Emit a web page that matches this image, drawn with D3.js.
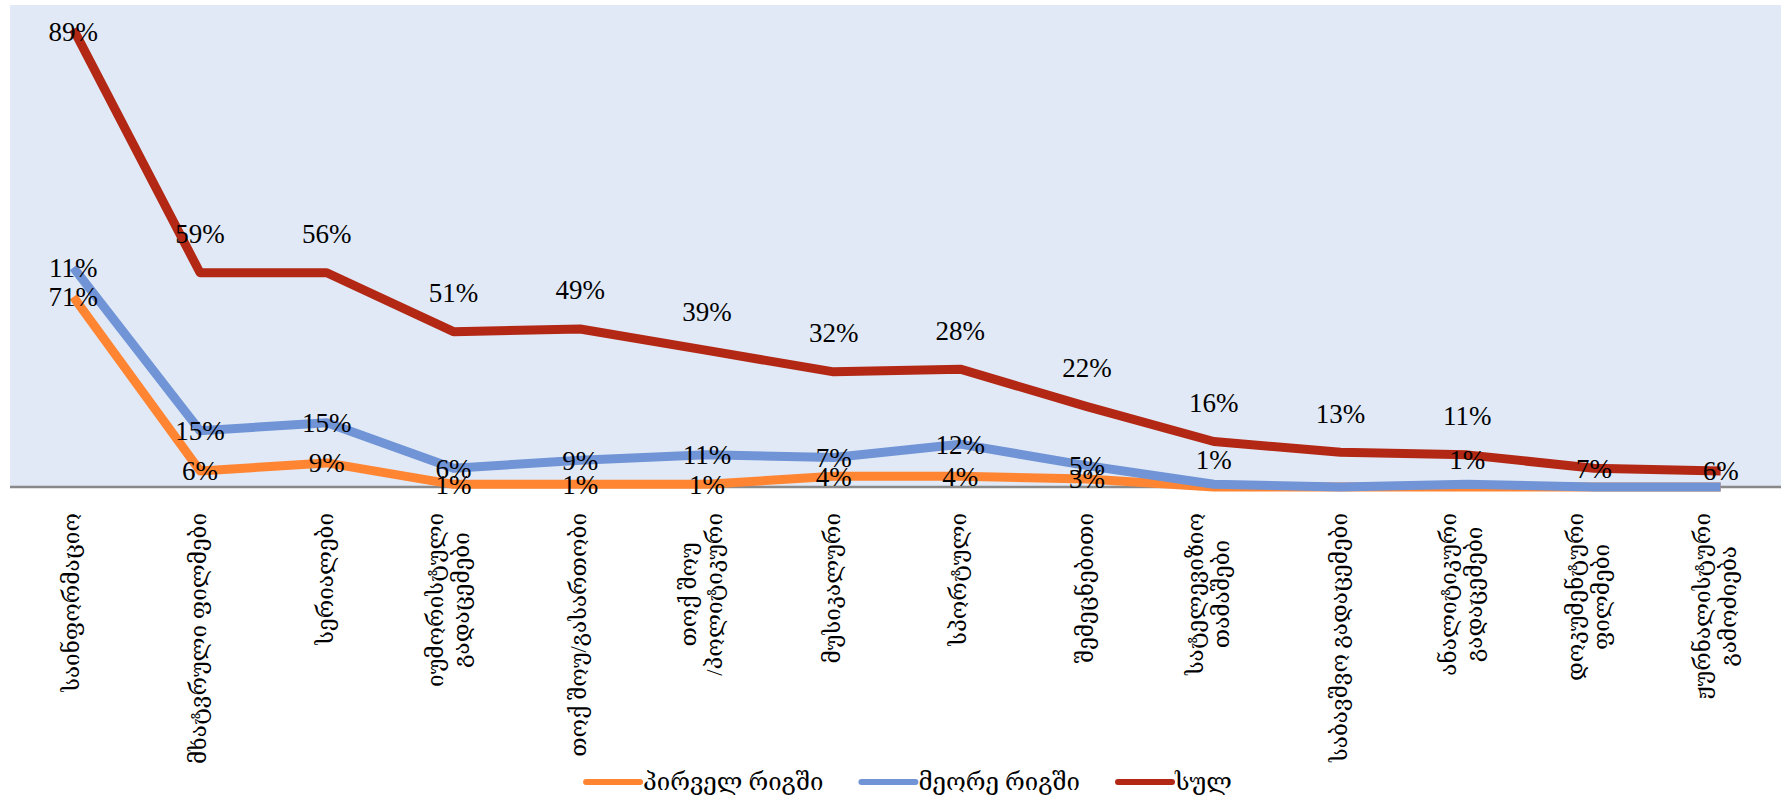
<!DOCTYPE html>
<html>
<head>
<meta charset="utf-8">
<script src="https://cdn.jsdelivr.net/npm/d3@7"></script>
<style>
  body { margin: 0; background: #fff; }
  svg { display: block; font-family: "Liberation Serif", "DejaVu Serif", "DejaVu Sans", serif; }
</style>
</head>
<body>
<div id="chart"></div>
<script>
// categories (each entry = lines of the wrapped label)
const categories = [
    ["საინფორმაციო"],
    ["მხატვრული ფილმები"],
    ["სერიალები"],
    ["იუმორისტული", "გადაცემები"],
    ["თოქ შოუ/გასართობი"],
    ["თოქ შოუ", "/პოლიტიკური"],
    ["მუსიკალური"],
    ["სპორტული"],
    ["შემეცნებითი"],
    ["სატელევიზიო", "თამაშები"],
    ["საბავშვო გადაცემები"],
    ["ანალიტიკური", "გადაცემები"],
    ["დოკუმენტური", "ფილმები"],
    ["ჟურნალისტური", "გამოძიება"]
];

const seriesNames = ["პირველ რიგში", "მეორე რიგში", "სულ"];
const firstRow  = [71, 6, 9, 1, 1, 1, 4, 4, 3, 0, 0, 0, 0, 0];
const secondRow = [11, 15, 15, 6, 9, 11, 7, 12, 5, 1, 0, 1, 0, 0];
const total     = [89, 59, 56, 51, 49, 39, 32, 28, 22, 16, 13, 11, 7, 6];

// where the value labels sit: c = on the point, a = above it
const labelPos = [
    "cccccccccccccc",
    "cccccccccacacc",
    "caaaaaaaaaaacc"
];

const colors = ["#FF8533", "#7094D6", "#B32814"];

const W = 1781, H = 801;
const plot = {left: 10, right: 1784, top: 5, bottom: 487};

const svg = d3.select("#chart").append("svg")
    .attr("width", W).attr("height", H);

svg.append("rect")
    .attr("x", plot.left).attr("y", plot.top)
    .attr("width", plot.right - plot.left).attr("height", plot.bottom - plot.top)
    .attr("fill", "#E1E9F6");

const keys = ["first", "second", "total"];
const table = categories.map((c, i) => ({i: i, first: firstRow[i], second: secondRow[i], total: total[i]}));
const stacked = d3.stack().keys(keys)(table);

const x = d3.scaleBand()
    .domain(d3.range(categories.length))
    .range([plot.left, plot.right]);

const y = d3.scaleLinear()
    .domain([0, 180])
    .range([plot.bottom, plot.top]);

const cx = i => x(i) + x.bandwidth() / 2;

// axis line
svg.append("line")
    .attr("x1", plot.left).attr("x2", W)
    .attr("y1", y(0)).attr("y2", y(0))
    .attr("stroke", "#898989").attr("stroke-width", 2.5);

const line = d3.line()
    .x((d, i) => cx(i))
    .y(d => y(d[1]));

svg.selectAll(".series")
    .data(stacked)
    .enter().append("path")
    .attr("class", "series")
    .attr("fill", "none")
    .attr("stroke", (d, k) => colors[k])
    .attr("stroke-width", 9)
    .attr("stroke-linejoin", "round")
    .attr("d", line);

// value labels
stacked.forEach((s, k) => {
    svg.append("g").selectAll("text")
        .data(s)
        .enter()
        .filter(d => d.data[keys[k]] > 0)
        .append("text")
        .attr("x", d => cx(d.data.i))
        .attr("y", d => {
            let yy = y(d[1]);
            if (labelPos[k][d.data.i] === "a") yy -= (k === 2 ? 39 : 25);
            return Math.max(yy, plot.top + 27);
        })
        .attr("dy", "0.35em")
        .attr("text-anchor", "middle")
        .attr("font-size", 27)
        .attr("fill", "#000")
        .text(d => d.data[keys[k]] + "%");
});

// category labels, rotated, block ends at the top, lines centered in the block
const labelTop = 513;
const lineGap = 26;
const catG = svg.append("g").attr("font-size", 22.5).attr("fill", "#000");
categories.forEach((lines, i) => {
    const g = catG.append("g");
    const texts = lines.map(t => g.append("text").attr("text-anchor", "middle").text(t));
    const maxW = d3.max(texts, t => t.node().getComputedTextLength());
    const n = lines.length;
    texts.forEach((t, j) => {
        const off = n > 1 ? (j - (n - 1) / 2) * lineGap - 4 : 0;
        t.attr("transform", `translate(${cx(i) + off + 6},${labelTop + maxW / 2}) rotate(-90)`);
    });
});

// legend
const legend = svg.append("g").attr("font-size", 24);
const items = legend.selectAll("g")
    .data(seriesNames)
    .enter().append("g");
items.append("line")
    .attr("x1", 0).attr("x2", 54)
    .attr("y1", 0).attr("y2", 0)
    .attr("stroke", (d, k) => colors[k])
    .attr("stroke-width", 6)
    .attr("stroke-linecap", "round");
items.append("text")
    .attr("x", 57).attr("dy", "0.35em")
    .text(d => d);
let pos = 0;
const gap = 38;
items.each(function() {
    const w = this.getBBox().width;
    d3.select(this).attr("transform", `translate(${pos},0)`);
    pos += w + gap;
});
const totalW = pos - gap;
legend.attr("transform", `translate(${909 - totalW / 2},782)`);
</script>
</body>
</html>
